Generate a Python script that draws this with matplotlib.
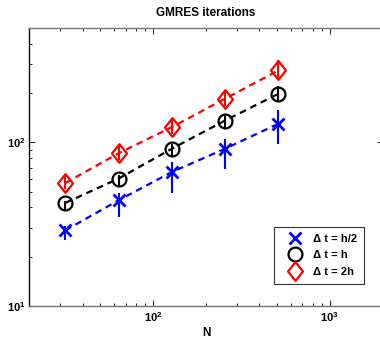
import numpy as np
import matplotlib
matplotlib.use("Agg")
import matplotlib.pyplot as plt
from matplotlib.lines import Line2D
from matplotlib.path import Path
from matplotlib.ticker import LogLocator, FuncFormatter, NullFormatter

plt.rcParams['font.family'] = ['Liberation Sans', 'DejaVu Sans']
plt.rcParams['mathtext.fontset'] = 'custom'
plt.rcParams['mathtext.rm'] = 'Liberation Sans:bold'
plt.rcParams['mathtext.bf'] = 'Liberation Sans:bold'
plt.rcParams['mathtext.it'] = 'Liberation Sans:bold'

N = [32, 64, 128, 256, 512]
labels = ['\u0394 t = h/2', '\u0394 t = h', '\u0394 t = 2h']
iters_half = [29, 44.3, 65.9, 91.5, 130]
low_half = [25.2, 34.9, 49.1, 69.2, 98.2]
high_half = [31, 48.9, 75.9, 105, 157]
iters_h = [42.7, 60.1, 91.5, 136, 198]
low_h = [38.5, 54, 82, 122, 176]
high_h = [44, 63, 98, 148, 220]
iters_2h = [56.5, 85.8, 124, 185, 275]
low_2h = [52, 78, 112, 168, 245]
high_2h = [62, 95, 140, 210, 320]

diamond = Path([(0, 1), (0.8, 0), (0, -1), (-0.8, 0), (0, 1)],
               [Path.MOVETO, Path.LINETO, Path.LINETO, Path.LINETO, Path.CLOSEPOLY])

W, H = 380, 340
fig = plt.figure(figsize=(W / 100, H / 100), dpi=100)
x0, x1 = 29.3, 383.0
yb, yt = 306.0, 28.0
ax = fig.add_axes([x0 / W, 1 - yb / H, (x1 - x0) / W, (yb - yt) / H])

series = [
    (iters_half, low_half, high_half, 'blue', 'x', 8, 2.0),
    (iters_h, low_h, high_h, 'black', 'o', 10, 1.6),
    (iters_2h, low_2h, high_2h, 'red', diamond, 13.5, 1.6),
]
handles = []
for (y, lo, hi, c, m, ms, mew), lab in zip(series, labels):
    y = np.array(y); lo = np.array(lo); hi = np.array(hi)
    ax.plot(N, y, color=c, lw=1.6, linestyle=(0, (3, 2.2)), zorder=2)
    ax.errorbar(N, y, yerr=[y - lo, hi - y], fmt='none', ecolor=c,
                elinewidth=1.5, capsize=0, zorder=3)
    ax.plot(N, y, linestyle='none', marker=m, ms=ms, mew=mew, mec=c,
            mfc='none', zorder=4)
    handles.append(Line2D([], [], linestyle='none', marker=m, ms=ms,
                          mew=mew, mec=c, mfc='none', label=lab))

ax.set_xscale('log')
ax.set_yscale('log')
ax.set_xlim(20, 2000)
ax.set_ylim(10, 500)

fmt = FuncFormatter(lambda v, p: r'$\mathbf{10^{%d}}$' % round(np.log10(v)))
ax.xaxis.set_major_locator(LogLocator(base=10))
ax.yaxis.set_major_locator(LogLocator(base=10))
ax.xaxis.set_major_formatter(fmt)
ax.yaxis.set_major_formatter(fmt)
ax.xaxis.set_minor_formatter(NullFormatter())
ax.yaxis.set_minor_formatter(NullFormatter())
ax.tick_params(which='both', direction='in', top=True, right=True,
               labelsize=8, width=0.6, pad=3)
ax.tick_params(which='major', length=4)
ax.tick_params(which='minor', length=2)
for s in ['top', 'bottom']:
    ax.spines[s].set_color('0.45')
ax.spines['left'].set_color('black')
for s in ax.spines.values():
    s.set_linewidth(1.0)

ax.set_title('GMRES iterations', fontsize=8.5, fontweight='bold', pad=9)
ax.set_xlabel('N', fontsize=8.5, fontweight='bold', labelpad=2)

leg = ax.legend(handles=handles, loc='upper left',
                bbox_to_anchor=(274 / W, 1 - 227 / H),
                bbox_transform=fig.transFigure, frameon=True, fancybox=False,
                prop={'weight': 'bold', 'size': 8}, handletextpad=0.3,
                handlelength=2.6, labelspacing=0.6, borderpad=0.6,
                borderaxespad=0)
leg.get_frame().set_edgecolor('black')
leg.get_frame().set_linewidth(0.8)

fig.savefig('out.png', dpi=100)
